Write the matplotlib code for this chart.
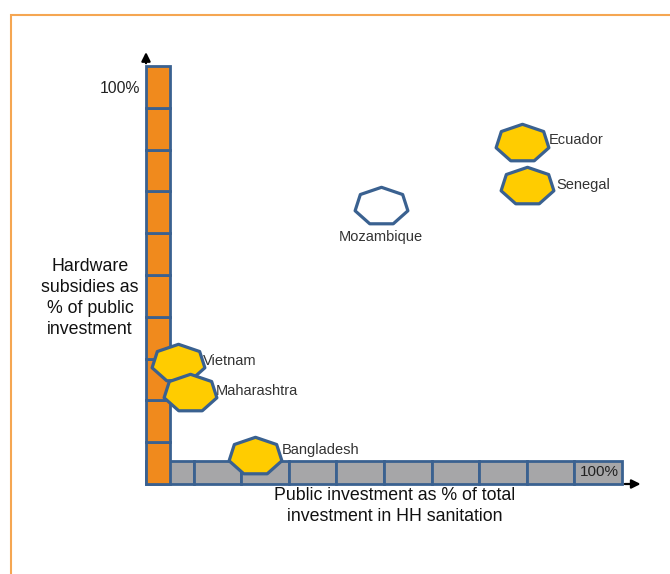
import matplotlib.pyplot as plt
import numpy as np
from matplotlib.path import Path
from matplotlib.patches import Rectangle

plt.rcParams['font.family'] = ['Liberation Sans', 'DejaVu Sans']

# Data (percent on both axes)
countries = ["Ecuador", "Senegal", "Mozambique", "Vietnam", "Maharashtra", "Bangladesh"]
public_share = [79.0, 80.0, 49.4, 6.7, 9.2, 22.9]
hardware_share = [81.6, 71.3, 66.5, 29.0, 21.8, 6.7]
filled = [True, True, False, True, True, True]
scale_steps = np.arange(0, 100, 10)

# label offsets in points relative to the marker centre
label_offsets = [(19, 2), (21, 1), (0, -22), (18, 1), (19, 1), (19, 4)]
label_ha = ["left", "left", "center", "left", "left", "left"]

EDGE = "#3A6190"
YELLOW = "#FFCC00"
ORANGE = "#F08A1D"
GREY = "#A6A6A8"

# flattened heptagon, flat side at the bottom
ang = np.deg2rad(90 + np.arange(7) * 360 / 7)
verts = np.column_stack([1.41 * np.cos(ang), np.sin(ang)])
verts = np.vstack([verts, verts[:1]])
hept = Path(verts, closed=True)

fig = plt.figure(figsize=(6.7, 5.74), dpi=100)
fig.patches.append(Rectangle((10.5 / 670, -0.1), 1.2, 1.1 - 15 / 574,
                             transform=fig.transFigure, fill=False,
                             edgecolor="#F5A652", lw=1.5))

ax = fig.add_axes([146 / 670, 90 / 574, 476 / 670, 418 / 574])
ax.set_xlim(0, 100)
ax.set_ylim(0, 100)
ax.axis("off")

# horizontal scale (grey), then vertical scale (orange) on top
ax.barh(np.zeros(10), 10, left=scale_steps, height=5.5, align="edge",
        color=GREY, edgecolor=EDGE, lw=2, zorder=2, clip_on=False)
ax.bar(scale_steps * 0, 10, width=5.05, bottom=scale_steps, align="edge",
       color=ORANGE, edgecolor=EDGE, lw=2, zorder=2, clip_on=False)

# arrows
ax.annotate("", xy=(0, 104), xytext=(0, 100),
            arrowprops=dict(arrowstyle="-|>", color="black", lw=1.6, mutation_scale=13),
            annotation_clip=False)
ax.annotate("", xy=(104.5, 0), xytext=(100, 0),
            arrowprops=dict(arrowstyle="-|>", color="black", lw=1.6, mutation_scale=13),
            annotation_clip=False)

ax.text(-1.3, 94.5, "100%", ha="right", va="center", fontsize=11.3, color="#222222")
ax.text(99.4, 2.8, "100%", ha="right", va="center", fontsize=11, color="#222222", zorder=4)

for i, name in enumerate(countries):
    ax.plot(public_share[i], hardware_share[i], marker=hept, markersize=38,
            markerfacecolor=YELLOW if filled[i] else "white",
            markeredgecolor=EDGE, markeredgewidth=2.3, zorder=3 + i * 0.1,
            clip_on=False, linestyle="none")
    ax.annotate(name, (public_share[i], hardware_share[i]),
                xytext=label_offsets[i], textcoords="offset points",
                ha=label_ha[i], va="center", fontsize=10.5, color="#333333",
                zorder=5)

fig.text(90 / 670, 1 - 298 / 574, "Hardware\nsubsidies as\n% of public\ninvestment",
         ha="center", va="center", fontsize=12.8, linespacing=1.3, color="#111111")
fig.text(395 / 670, 1 - 506 / 574, "Public investment as % of total\ninvestment in HH sanitation",
         ha="center", va="center", fontsize=12.8, linespacing=1.25, color="#111111")

fig.savefig("out.png", dpi=100)
